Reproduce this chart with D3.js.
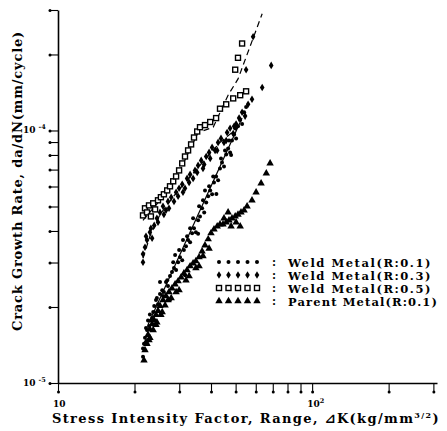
<!DOCTYPE html>
<html>
<head>
<meta charset="utf-8">
<script src="https://cdn.jsdelivr.net/npm/d3@7"></script>
<style>
  body { margin: 0; background: #fff; }
  svg { display: block; }
</style>
</head>
<body>
<svg id="chart" width="447" height="431"></svg>
<script>
// ΔK (kg/mm^3/2) and da/dN (mm/cycle) pairs for each test series
const weldR01 = [
  [21.6,1.27e-5],[21.6,1.37e-5],[22.0,1.51e-5],[22.2,1.65e-5],[22.6,1.77e-5],[23.0,1.87e-5],
  [23.45,1.81e-5],[23.9,2.02e-5],[24.3,2.13e-5],[24.75,2.05e-5],[25.2,2.25e-5],[25.7,2.33e-5],
  [26.1,2.29e-5],[26.6,2.51e-5],[27.1,2.42e-5],[27.6,2.65e-5],[28.1,2.75e-5],[28.6,2.85e-5],
  [29.15,2.80e-5],[29.7,3.01e-5],[30.2,3.15e-5],[30.8,3.06e-5],[31.3,3.36e-5],[31.9,3.48e-5],
  [32.5,3.68e-5],[33.1,3.61e-5],[33.7,3.92e-5],[34.3,4.10e-5],[34.9,3.95e-5],[35.6,4.41e-5],
  [36.2,4.57e-5],[36.9,4.92e-5],[37.6,4.74e-5],[38.3,5.19e-5],[39.0,5.49e-5],[39.7,5.79e-5],
  [40.4,5.59e-5],[41.1,6.23e-5],[41.9,6.58e-5],[42.65,6.35e-5],[43.4,7.08e-5],[44.2,7.47e-5],
  [45.0,7.21e-5],[45.9,8.04e-5],[46.7,8.49e-5],[47.55,8.19e-5],[48.4,9.13e-5],[49.3,9.64e-5],
  [50.2,9.30e-5],[51.1,1.04e-4],[52.1,1.10e-4],[53.0,1.06e-4],[54.0,1.18e-4],[55.0,1.24e-4],
  [25.2,2.51e-5],[28.9,3.21e-5],[33.1,4.10e-5],[37.9,5.79e-5],[45.4,8.34e-5],[31.6,2.67e-5],
  [27.6,2.13e-5],[35.6,3.90e-5],[42.0,5.60e-5],[48.0,8.00e-5],
  [21.8,1.43e-5],[22.4,1.62e-5],[22.8,1.68e-5],[23.2,1.77e-5],[23.7,1.91e-5],[24.5,2.17e-5],
  [25.9,2.21e-5],[26.9,2.55e-5],[28.4,3.01e-5],[29.95,3.36e-5],[31.05,3.68e-5],[32.2,3.81e-5],
  [34.0,4.49e-5],[35.9,5.01e-5],[37.2,5.29e-5],[39.3,6.01e-5],[40.8,6.58e-5],[43.8,7.75e-5],
  [47.1,9.13e-5],[49.8,1.02e-4]
];
const weldR03 = [
  [21.6,3.01e-5],[21.6,3.24e-5],[22.0,3.45e-5],[22.4,3.68e-5],[23.0,3.95e-5],[23.45,3.74e-5],
  [23.9,4.21e-5],[24.5,4.49e-5],[25.2,4.74e-5],[25.9,5.01e-5],[26.6,4.83e-5],[27.1,5.24e-5],
  [27.9,5.44e-5],[28.6,5.24e-5],[29.15,5.69e-5],[29.95,5.90e-5],[30.8,6.12e-5],[31.6,5.90e-5],
  [32.2,6.46e-5],[33.1,6.70e-5],[34.0,6.46e-5],[34.6,6.95e-5],[35.6,7.27e-5],[36.6,7.61e-5],
  [37.6,7.34e-5],[38.3,7.89e-5],[39.3,8.19e-5],[40.4,8.57e-5],[41.5,8.34e-5],[42.65,8.97e-5],
  [43.8,9.30e-5],[45.0,8.97e-5],[46.3,9.82e-5],[47.55,1.02e-4],[48.9,9.73e-5],[50.2,1.06e-4],
  [51.6,1.12e-4],[53.0,1.18e-4],[54.5,1.14e-4],[56.0,1.27e-4],[58.0,1.33e-4],[63.6,1.48e-4],
  [55.0,1.74e-4],[69.0,1.81e-4],[58.6,2.35e-4],
  [22.2,3.81e-5],[23.2,4.10e-5],[24.75,4.33e-5],[26.1,4.65e-5],[27.35,4.92e-5],[29.7,5.49e-5],
  [31.05,5.69e-5],[32.8,6.23e-5],[35.3,6.82e-5],[37.2,7.08e-5],[39.7,7.75e-5],[42.3,8.34e-5],
  [45.9,9.13e-5],[49.3,1.04e-4]
];
const weldR05 = [
  [21.6,4.61e-5],[22.0,4.92e-5],[22.4,4.74e-5],[22.8,5.05e-5],[23.2,4.57e-5],[23.7,5.15e-5],
  [24.1,4.87e-5],[24.75,5.29e-5],[25.4,5.44e-5],[26.1,5.59e-5],[26.9,5.79e-5],[27.6,6.01e-5],
  [28.4,6.29e-5],[29.15,6.58e-5],[29.95,6.95e-5],[30.8,7.41e-5],[31.6,7.89e-5],[32.5,8.34e-5],
  [33.4,8.81e-5],[34.3,9.38e-5],[35.3,9.91e-5],[36.2,1.03e-4],[37.9,1.05e-4],[39.7,1.08e-4],
  [41.9,1.12e-4],[43.4,1.22e-4],[45.9,1.27e-4],[48.9,1.34e-4],[52.1,1.38e-4],[55.0,1.43e-4],
  [49.8,1.74e-4],[51.1,1.94e-4],[53.0,2.21e-4]
];
const parentR01 = [
  [21.8,1.23e-5],[22.0,1.35e-5],[22.2,1.45e-5],[22.6,1.55e-5],[23.0,1.63e-5],[23.45,1.71e-5],
  [23.9,1.77e-5],[24.3,1.86e-5],[24.75,1.93e-5],[25.2,2.02e-5],[25.9,2.13e-5],[26.6,2.21e-5],
  [27.35,2.29e-5],[28.1,2.37e-5],[28.9,2.46e-5],[29.7,2.53e-5],[30.5,2.62e-5],[31.3,2.72e-5],
  [32.2,2.80e-5],[33.1,2.90e-5],[34.0,2.98e-5],[34.9,3.04e-5],[35.9,3.15e-5],[36.9,3.32e-5],
  [37.9,3.51e-5],[39.0,3.71e-5],[40.0,3.92e-5],[41.1,4.06e-5],[42.3,4.17e-5],[43.4,4.25e-5],
  [44.6,4.25e-5],[45.9,4.33e-5],[47.1,4.41e-5],[48.4,4.49e-5],[49.8,4.57e-5],[51.1,4.65e-5],
  [52.5,4.74e-5],[54.0,4.83e-5],[55.5,5.01e-5],[58.0,5.29e-5],[60.2,5.69e-5],[63.0,6.17e-5],
  [66.0,6.76e-5],[68.3,7.41e-5],
  [48.0,4.17e-5],[50.2,4.33e-5],[52.1,4.17e-5],[46.7,4.74e-5],[45.0,4.49e-5],
  [23.0,1.51e-5],[24.3,1.70e-5],[25.7,1.91e-5],[27.1,2.13e-5],[29.15,2.29e-5],[31.9,2.55e-5],[34.9,2.85e-5],
  [22.4,1.43e-5],[22.8,1.48e-5],[23.7,1.62e-5],[24.5,1.74e-5],[25.4,1.86e-5],[26.4,2.03e-5],
  [27.9,2.17e-5],[29.95,2.33e-5],[32.8,2.65e-5],[35.9,2.90e-5],[37.2,3.18e-5],[39.3,3.41e-5]
];

// fitted curves drawn through the weld-metal data
const fitR01 = [[22.6,1.70e-5],[53.0,1.12e-4]];
const fitR03 = [[21.6,3.12e-5],[23.0,3.81e-5],[25.2,4.65e-5],[28.9,5.59e-5],[36.2,7.27e-5],[43.4,8.97e-5],[50.7,1.02e-4]];
const fitR05 = [[21.6,4.41e-5],[25.2,5.29e-5],[30.2,6.95e-5],[35.6,9.82e-5],[40.8,1.03e-4],[46.7,1.38e-4],[51.1,1.60e-4],[63.6,2.90e-4]];

const seriesLabels = ["Weld Metal(R:0.1)", "Weld Metal(R:0.3)", "Weld Metal(R:0.5)", "Parent Metal(R:0.1)"];
const xTicks = [10,20,30,40,50,60,70,80,90,100,200,300];
const yTicks = [1e-5,2e-5,3e-5,4e-5,5e-5,6e-5,7e-5,8e-5,9e-5,1e-4,2e-4,3e-4];
const xTickLabels = [{v:10, base:"10", exp:""}, {v:100, base:"10", exp:"2"}];
const yTickLabels = [{v:1e-5, base:"10", exp:"-5"}, {v:1e-4, base:"10", exp:"-4"}];

const svg = d3.select("#chart");
const serif = "'DejaVu Serif', 'Liberation Serif', serif";
const ink = "#000";

const x = d3.scaleLog().domain([10, 310]).range([58, 437]);
const y = d3.scaleLog().domain([1e-5, 3e-4]).range([383, 10]);

// stretch or squeeze a text run so it spans the given width
function fitWidth(sel, width) {
  const node = sel.node();
  const n = node.textContent.length;
  const w = node.getComputedTextLength();
  sel.attr("letter-spacing", ((width - w) / n).toFixed(2));
}

// axes: ticks end in a small bead
const gx = svg.append("g").attr("transform", "translate(0,383)")
  .call(d3.axisBottom(x).tickValues(xTicks).tickSize(9).tickSizeOuter(0).tickFormat(""));
gx.select(".domain").attr("stroke", ink).attr("stroke-width", 1.6);
gx.selectAll(".tick line").attr("stroke", ink).attr("stroke-width", 1.1);
gx.selectAll(".tick").append("circle").attr("cy", 9).attr("r", 1.5).attr("fill", ink);

const gy = svg.append("g").attr("transform", "translate(58,0)")
  .call(d3.axisLeft(y).tickValues(yTicks).tickSize(8).tickSizeOuter(0).tickFormat(""));
gy.select(".domain").attr("stroke", ink).attr("stroke-width", 1.6);
gy.selectAll(".tick line").attr("stroke", ink).attr("stroke-width", 1.1);
gy.selectAll(".tick").append("circle").attr("cx", -8).attr("r", 1.5).attr("fill", ink);

// decade labels
xTickLabels.forEach(d => {
  const t = svg.append("text").attr("x", x(d.v) - 5).attr("y", 407)
    .attr("font-family", serif).attr("font-weight", "bold").attr("font-size", 9).attr("fill", ink)
    .text(d.base);
  if (d.exp) t.append("tspan").attr("dy", -4).attr("font-size", 6.5).text(d.exp);
});
yTickLabels.forEach(d => {
  const t = svg.append("text").attr("x", 23).attr("y", y(d.v) + 3)
    .attr("font-family", serif).attr("font-weight", "bold").attr("font-size", 9).attr("fill", ink)
    .text(d.base);
  t.append("tspan").attr("dx", 3).attr("dy", -4).attr("font-size", 6.5).text(d.exp);
});

// axis titles
const xTitle = svg.append("text").attr("x", 52).attr("y", 423)
  .attr("font-family", serif).attr("font-weight", "bold").attr("font-size", 13).attr("fill", ink);
xTitle.append("tspan").text("Stress Intensity Factor, Range, ");
xTitle.append("tspan").attr("font-style", "italic").attr("font-family", "'DejaVu Sans', serif").text("⊿");
xTitle.append("tspan").text("K(kg/mm");
xTitle.append("tspan").attr("dy", -5).attr("font-size", 8).text("3/2");
xTitle.append("tspan").attr("dy", 5).text(")");
fitWidth(xTitle, 388);

const yTitle = svg.append("text").attr("transform", "translate(22,181) rotate(-90)")
  .attr("text-anchor", "middle")
  .attr("font-family", serif).attr("font-weight", "bold").attr("font-size", 13).attr("fill", ink)
  .text("Crack Growth Rate, da/dN(mm/cycle)");
fitWidth(yTitle, 300);

// fitted lines
const line = d3.line().x(d => x(d[0])).y(d => y(d[1]));
const plot = svg.append("g");
plot.append("path").attr("d", line(fitR01)).attr("fill", "none").attr("stroke", ink).attr("stroke-width", 1.2);
plot.append("path").attr("d", line(fitR03)).attr("fill", "none").attr("stroke", ink).attr("stroke-width", 1.2).attr("stroke-dasharray", "6,4");
plot.append("path").attr("d", line(fitR05)).attr("fill", "none").attr("stroke", ink).attr("stroke-width", 1.2).attr("stroke-dasharray", "6,4");

// marker glyphs
function mark(g, kind) {
  if (kind === "dot") {
    g.append("circle").attr("r", 2).attr("fill", ink);
  } else if (kind === "diamond") {
    g.append("path").attr("d", "M0,-3.8L2.3,0L0,3.8L-2.3,0Z").attr("fill", ink);
  } else if (kind === "square") {
    g.append("rect").attr("x", -2.5).attr("y", -2.5).attr("width", 5).attr("height", 5)
      .attr("fill", "#fff").attr("stroke", ink).attr("stroke-width", 1.4);
  } else {
    g.append("path").attr("d", d3.symbol(d3.symbolTriangle, 24)()).attr("fill", ink);
  }
}

const series = [
  {data: parentR01, kind: "triangle"},
  {data: weldR01, kind: "dot"},
  {data: weldR03, kind: "diamond"},
  {data: weldR05, kind: "square"}
];
series.forEach(s => {
  plot.append("g").selectAll("g").data(s.data).join("g")
    .attr("transform", d => `translate(${x(d[0]).toFixed(1)},${y(d[1]).toFixed(1)})`)
    .each(function() { mark(d3.select(this), s.kind); });
});

// legend
const legendKinds = ["dot", "diamond", "square", "triangle"];
const legendWidths = [144, 144, 144, 150];
const legend = svg.append("g");
seriesLabels.forEach((label, i) => {
  const cy = 262 + i * 13;
  for (let k = 0; k < 5; k++) {
    mark(legend.append("g").attr("transform", `translate(${219 + k * 9.5},${cy})`), legendKinds[i]);
  }
  legend.append("text").attr("x", 272).attr("y", cy + 4)
    .attr("font-family", serif).attr("font-weight", "bold").attr("font-size", 11).attr("fill", ink).text(":");
  const t = legend.append("text").attr("x", 288).attr("y", cy + 4.5)
    .attr("font-family", serif).attr("font-weight", "bold").attr("font-size", 11.5).attr("fill", ink).text(label);
  fitWidth(t, legendWidths[i]);
});
</script>
</body>
</html>
